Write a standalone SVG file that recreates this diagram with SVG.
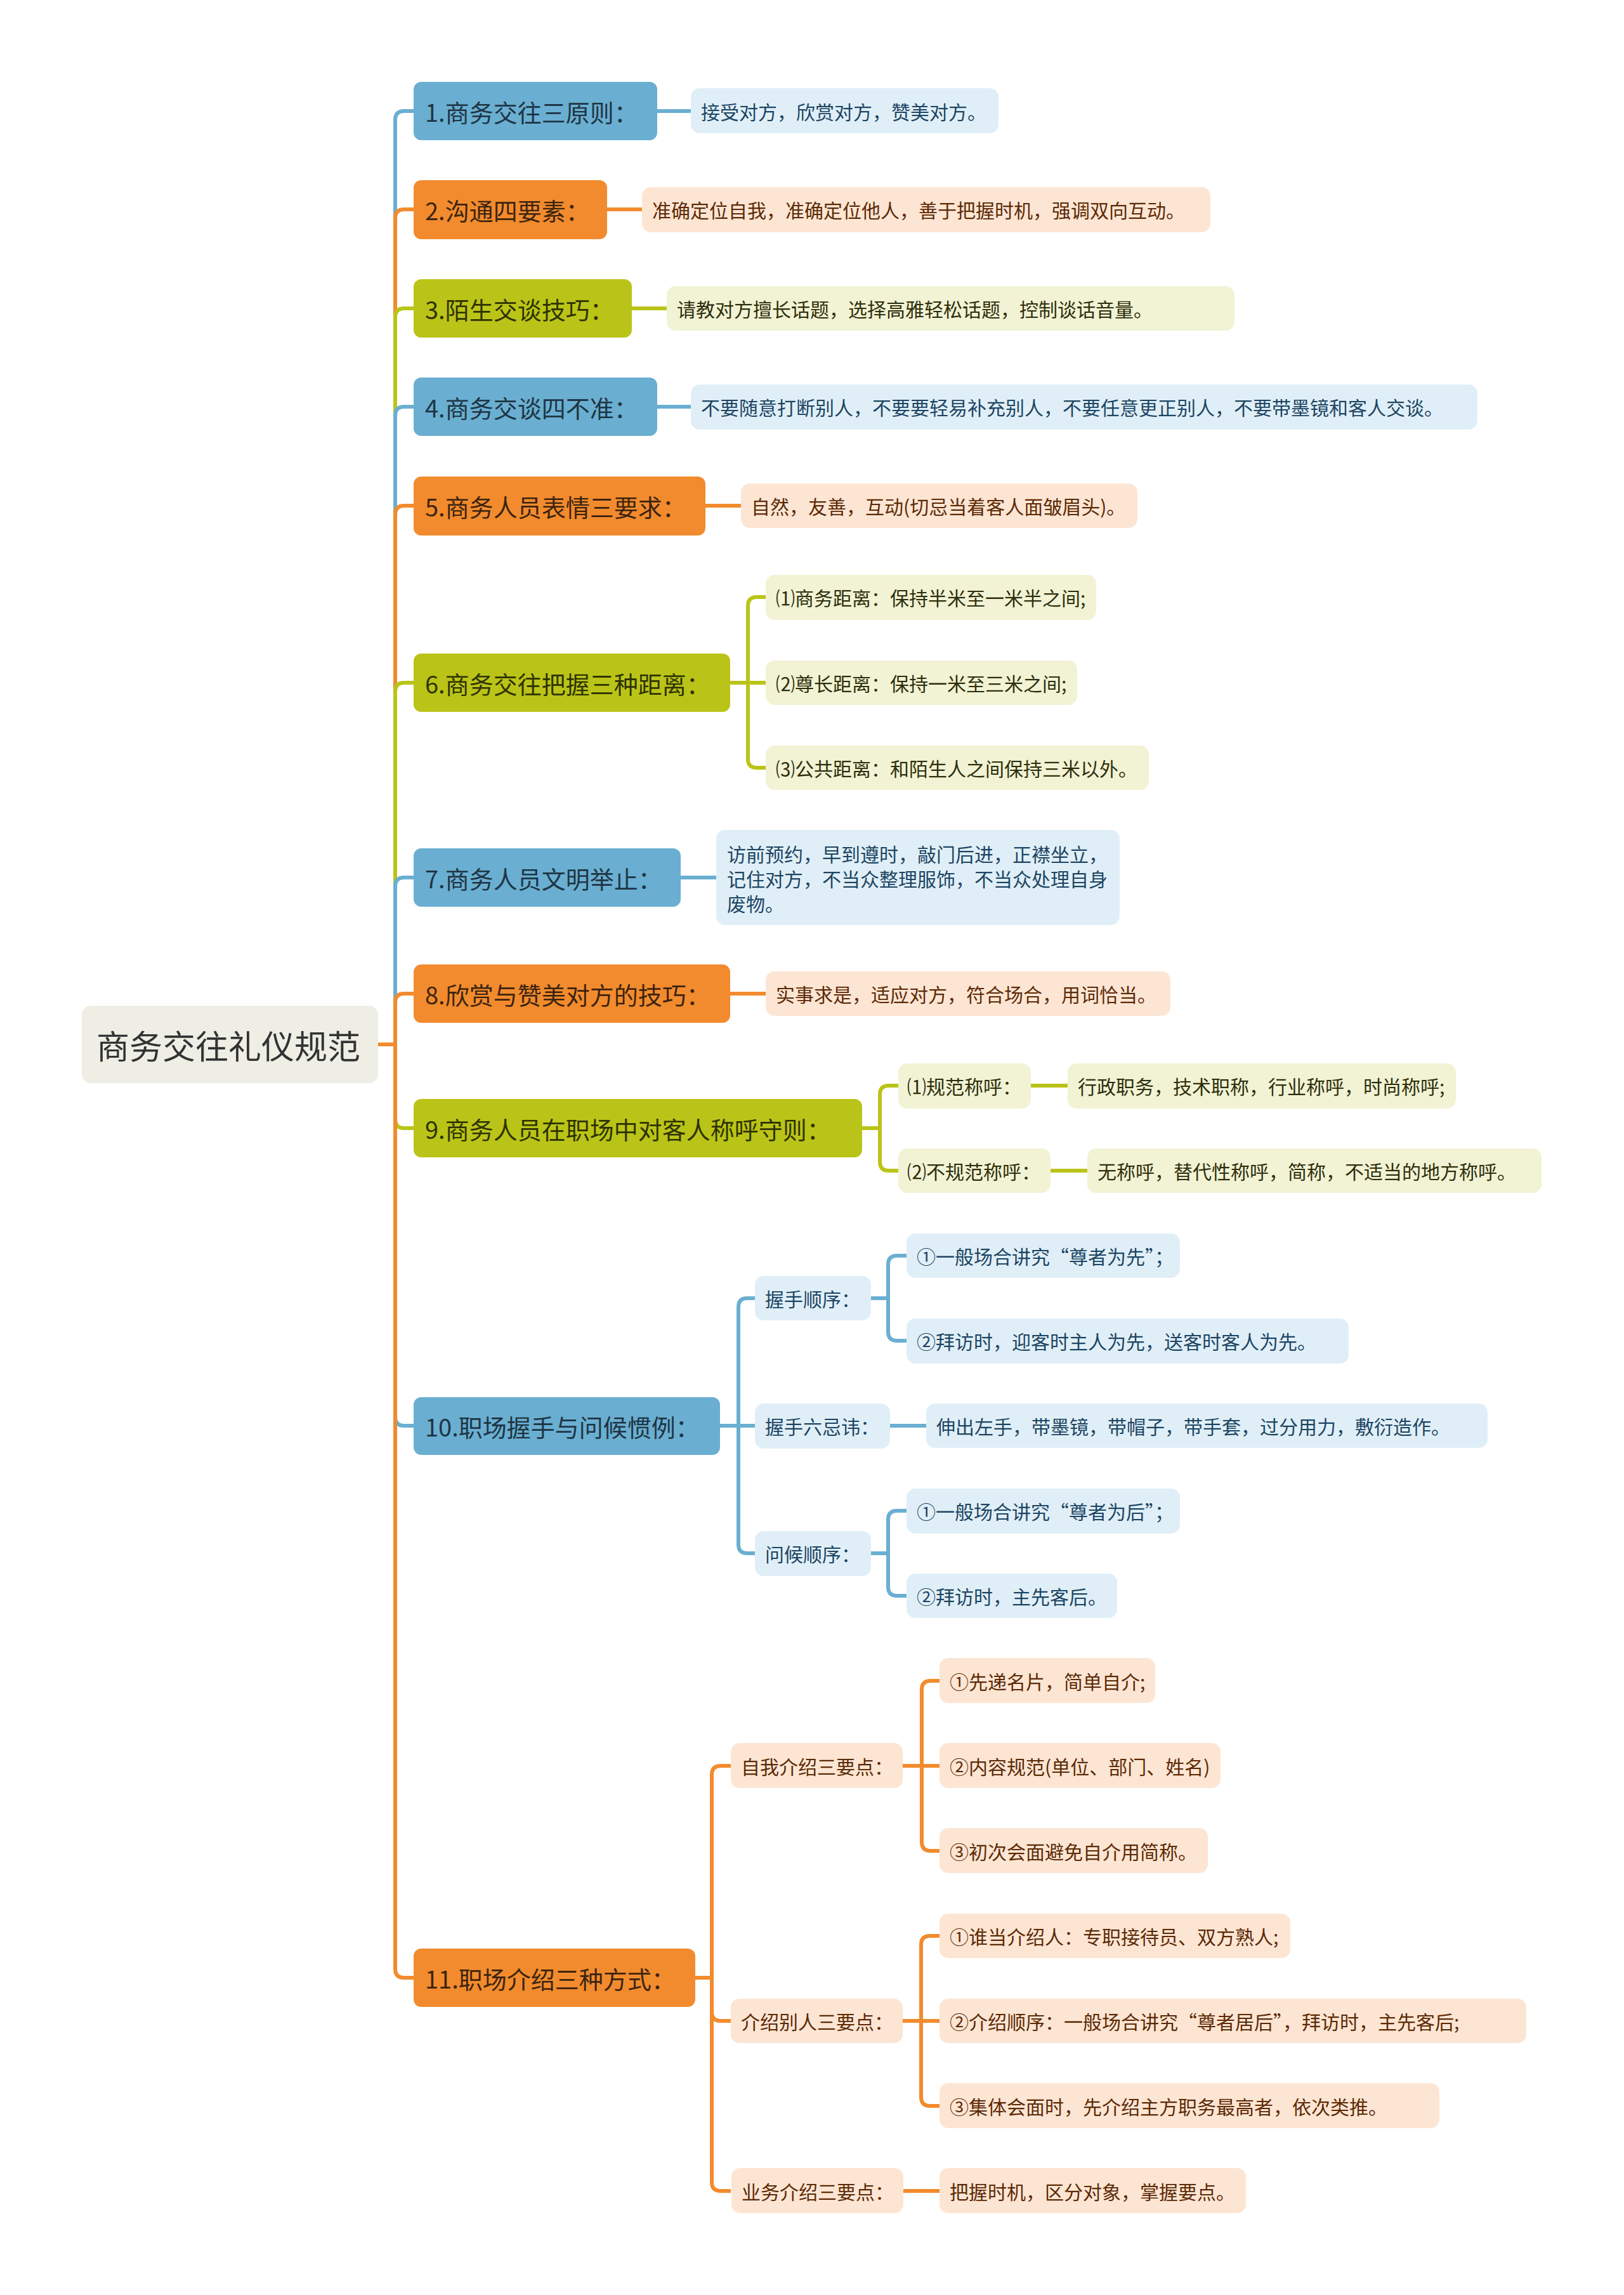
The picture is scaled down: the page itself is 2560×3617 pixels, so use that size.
<svg xmlns="http://www.w3.org/2000/svg" width="2560" height="3617" viewBox="0 0 2560 3617">
<style>
text{font-family:"Noto Sans CJK SC","Noto Sans",sans-serif;dominant-baseline:central}
.c{fill:none;stroke-width:6;stroke-linejoin:round}
.cb{stroke:#6AAFD1}.co{stroke:#F28B2D}.cg{stroke:#BAC418}
.mb{fill:#6AAFD1}.mo{fill:#F28B2D}.mg{fill:#BAC418}
.lb{fill:#E0EFF7}.lo{fill:#FDE5D3}.lg{fill:#F1F3D4}
.tm{font-size:38px}
.tmb{fill:#1E3545}.tmo{fill:#3D2410}.tmg{fill:#2F3300}
.ts{font-size:30px}
.tsb{fill:#1D4563}.tso{fill:#5C2A06}.tsg{fill:#2E2E0C}
</style>
<rect width="2560" height="3617" fill="#FFFFFF"/>
<g id="connectors">
<path class="c cb" d="M596,1646 H623 V189 Q623,175 637,175 H652"/>
<path class="c co" d="M596,1646 H623 V344 Q623,330 637,330 H652"/>
<path class="c cg" d="M596,1646 H623 V500 Q623,486 637,486 H652"/>
<path class="c cb" d="M596,1646 H623 V655 Q623,641 637,641 H652"/>
<path class="c co" d="M596,1646 H623 V811 Q623,797 637,797 H652"/>
<path class="c cg" d="M596,1646 H623 V1090 Q623,1076 637,1076 H652"/>
<path class="c cb" d="M596,1646 H623 V1397 Q623,1383 637,1383 H652"/>
<path class="c co" d="M596,1646 H623 V1580 Q623,1566 637,1566 H652"/>
<path class="c cg" d="M596,1646 H623 V1764 Q623,1778 637,1778 H652"/>
<path class="c cb" d="M596,1646 H623 V2233 Q623,2247 637,2247 H652"/>
<path class="c co" d="M596,1646 H623 V3103 Q623,3117 637,3117 H652"/>
<path class="c cb" d="M1036,175 H1089"/>
<path class="c co" d="M957,330 H1012"/>
<path class="c cg" d="M996,486 H1051"/>
<path class="c cb" d="M1036,641 H1089"/>
<path class="c co" d="M1112,797 H1168"/>
<path class="c cg" d="M1151,1076 H1179 V955 Q1179,941 1193,941 H1207"/>
<path class="c cg" d="M1151,1076 H1207"/>
<path class="c cg" d="M1151,1076 H1179 V1196 Q1179,1210 1193,1210 H1207"/>
<path class="c cb" d="M1073,1383 H1129"/>
<path class="c co" d="M1151,1566 H1207"/>
<path class="c cg" d="M1359,1778 H1387 V1725 Q1387,1711 1401,1711 H1416"/>
<path class="c cg" d="M1359,1778 H1387 V1831 Q1387,1845 1401,1845 H1416"/>
<path class="c cg" d="M1625,1711 H1683"/>
<path class="c cg" d="M1656,1845 H1714"/>
<path class="c cb" d="M1135,2247 H1164 V2060 Q1164,2046 1178,2046 H1190"/>
<path class="c cb" d="M1135,2247 H1190"/>
<path class="c cb" d="M1135,2247 H1164 V2434 Q1164,2448 1178,2448 H1190"/>
<path class="c cb" d="M1373,2046 H1400 V1993 Q1400,1979 1414,1979 H1429"/>
<path class="c cb" d="M1373,2046 H1400 V2099 Q1400,2113 1414,2113 H1429"/>
<path class="c cb" d="M1403,2247 H1460"/>
<path class="c cb" d="M1373,2448 H1400 V2395 Q1400,2381 1414,2381 H1429"/>
<path class="c cb" d="M1373,2448 H1400 V2501 Q1400,2515 1414,2515 H1429"/>
<path class="c co" d="M1096,3117 H1122 V2797 Q1122,2783 1136,2783 H1152"/>
<path class="c co" d="M1096,3117 H1122 V3171 Q1122,3185 1136,3185 H1152"/>
<path class="c co" d="M1096,3117 H1122 V3439 Q1122,3453 1136,3453 H1152"/>
<path class="c co" d="M1423,2783 H1453 V2663 Q1453,2649 1467,2649 H1481"/>
<path class="c co" d="M1423,2783 H1481"/>
<path class="c co" d="M1423,2783 H1453 V2903 Q1453,2917 1467,2917 H1481"/>
<path class="c co" d="M1423,3185 H1452 V3065 Q1452,3051 1466,3051 H1481"/>
<path class="c co" d="M1423,3185 H1481"/>
<path class="c co" d="M1423,3185 H1452 V3305 Q1452,3319 1466,3319 H1481"/>
<path class="c co" d="M1424,3453 H1481"/>
</g>
<g id="root"><rect x="129" y="1585" width="467" height="122" rx="14" fill="#EEEEE5"/><text x="152" y="1646" font-size="52" fill="#333333">商务交往礼仪规范</text></g>

<g id="n1"><rect class="mb" x="652" y="129" width="384" height="92" rx="12"/><text class="tm tmb" x="670" y="175">1.商务交往三原则：</text></g>
<g id="n1a"><rect class="lb" x="1089" y="139" width="485" height="71" rx="14"/><text class="ts tsb" x="1105" y="175">接受对方，欣赏对方，赞美对方。</text></g>

<g id="n2"><rect class="mo" x="652" y="284" width="305" height="93" rx="12"/><text class="tm tmo" x="670" y="330">2.沟通四要素：</text></g>
<g id="n2a"><rect class="lo" x="1012" y="295" width="896" height="71" rx="14"/><text class="ts tso" x="1028" y="330">准确定位自我，准确定位他人，善于把握时机，强调双向互动。</text></g>

<g id="n3"><rect class="mg" x="652" y="440" width="344" height="92" rx="12"/><text class="tm tmg" x="670" y="486">3.陌生交谈技巧：</text></g>
<g id="n3a"><rect class="lg" x="1051" y="451" width="895" height="70" rx="14"/><text class="ts tsg" x="1067" y="486">请教对方擅长话题，选择高雅轻松话题，控制谈话音量。</text></g>

<g id="n4"><rect class="mb" x="652" y="595" width="384" height="92" rx="12"/><text class="tm tmb" x="670" y="641">4.商务交谈四不准：</text></g>
<g id="n4a"><rect class="lb" x="1089" y="606" width="1240" height="71" rx="14"/><text class="ts tsb" x="1105" y="641">不要随意打断别人，不要要轻易补充别人，不要任意更正别人，不要带墨镜和客人交谈。</text></g>

<g id="n5"><rect class="mo" x="652" y="751" width="460" height="93" rx="12"/><text class="tm tmo" x="670" y="797">5.商务人员表情三要求：</text></g>
<g id="n5a"><rect class="lo" x="1168" y="762" width="625" height="70" rx="14"/><text class="ts tso" x="1184" y="797">自然，友善，互动(切忌当着客人面皱眉头)。</text></g>

<g id="n6"><rect class="mg" x="652" y="1030" width="499" height="92" rx="12"/><text class="tm tmg" x="670" y="1076">6.商务交往把握三种距离：</text></g>
<g id="n6a"><rect class="lg" x="1207" y="906" width="521" height="71" rx="14"/><text class="ts tsg" x="1223" y="941">⑴商务距离：保持半米至一米半之间;</text></g>
<g id="n6b"><rect class="lg" x="1207" y="1041" width="491" height="70" rx="14"/><text class="ts tsg" x="1223" y="1076">⑵尊长距离：保持一米至三米之间;</text></g>
<g id="n6c"><rect class="lg" x="1207" y="1175" width="604" height="70" rx="14"/><text class="ts tsg" x="1223" y="1210">⑶公共距离：和陌生人之间保持三米以外。</text></g>

<g id="n7"><rect class="mb" x="652" y="1337" width="421" height="92" rx="12"/><text class="tm tmb" x="670" y="1383">7.商务人员文明举止：</text></g>
<g id="n7a"><rect class="lb" x="1129" y="1308" width="636" height="150" rx="14"/><text class="ts tsb" x="1146" y="1345">访前预约，早到遵时，敲门后进，正襟坐立，</text><text class="ts tsb" x="1146" y="1384">记住对方，不当众整理服饰，不当众处理自身</text><text class="ts tsb" x="1146" y="1423">废物。</text></g>

<g id="n8"><rect class="mo" x="652" y="1520" width="499" height="92" rx="12"/><text class="tm tmo" x="670" y="1566">8.欣赏与赞美对方的技巧：</text></g>
<g id="n8a"><rect class="lo" x="1207" y="1531" width="638" height="70" rx="14"/><text class="ts tso" x="1223" y="1566">实事求是，适应对方，符合场合，用词恰当。</text></g>

<g id="n9"><rect class="mg" x="652" y="1732" width="707" height="92" rx="12"/><text class="tm tmg" x="670" y="1778">9.商务人员在职场中对客人称呼守则：</text></g>
<g id="n9a"><rect class="lg" x="1416" y="1676" width="209" height="71" rx="14"/><text class="ts tsg" x="1430" y="1711">⑴规范称呼：</text></g>
<g id="n9a1"><rect class="lg" x="1683" y="1676" width="612" height="71" rx="14"/><text class="ts tsg" x="1699" y="1711">行政职务，技术职称，行业称呼，时尚称呼;</text></g>
<g id="n9b"><rect class="lg" x="1416" y="1810" width="240" height="70" rx="14"/><text class="ts tsg" x="1430" y="1845">⑵不规范称呼：</text></g>
<g id="n9b1"><rect class="lg" x="1714" y="1810" width="716" height="70" rx="14"/><text class="ts tsg" x="1730" y="1845">无称呼，替代性称呼，简称，不适当的地方称呼。</text></g>

<g id="n10"><rect class="mb" x="652" y="2202" width="483" height="91" rx="12"/><text class="tm tmb" x="670" y="2247">10.职场握手与问候惯例：</text></g>
<g id="n10a"><rect class="lb" x="1190" y="2011" width="183" height="70" rx="14"/><text class="ts tsb" x="1206" y="2046">握手顺序：</text></g>
<g id="n10a1"><rect class="lb" x="1429" y="1944" width="431" height="70" rx="14"/><text class="ts tsb" x="1445" y="1979">①一般场合讲究“尊者为先”；</text></g>
<g id="n10a2"><rect class="lb" x="1429" y="2078" width="697" height="71" rx="14"/><text class="ts tsb" x="1445" y="2113">②拜访时，迎客时主人为先，送客时客人为先。</text></g>
<g id="n10b"><rect class="lb" x="1190" y="2212" width="213" height="71" rx="14"/><text class="ts tsb" x="1206" y="2247">握手六忌讳：</text></g>
<g id="n10b1"><rect class="lb" x="1460" y="2212" width="885" height="70" rx="14"/><text class="ts tsb" x="1476" y="2247">伸出左手，带墨镜，带帽子，带手套，过分用力，敷衍造作。</text></g>
<g id="n10c"><rect class="lb" x="1190" y="2413" width="183" height="71" rx="14"/><text class="ts tsb" x="1206" y="2448">问候顺序：</text></g>
<g id="n10c1"><rect class="lb" x="1429" y="2346" width="431" height="71" rx="14"/><text class="ts tsb" x="1445" y="2381">①一般场合讲究“尊者为后”；</text></g>
<g id="n10c2"><rect class="lb" x="1429" y="2480" width="332" height="70" rx="14"/><text class="ts tsb" x="1445" y="2515">②拜访时，主先客后。</text></g>

<g id="n11"><rect class="mo" x="652" y="3071" width="444" height="92" rx="12"/><text class="tm tmo" x="670" y="3117">11.职场介绍三种方式：</text></g>
<g id="n11a"><rect class="lo" x="1152" y="2747" width="271" height="71" rx="14"/><text class="ts tso" x="1168" y="2783">自我介绍三要点：</text></g>
<g id="n11a1"><rect class="lo" x="1481" y="2613" width="340" height="71" rx="14"/><text class="ts tso" x="1497" y="2649">①先递名片，简单自介;</text></g>
<g id="n11a2"><rect class="lo" x="1481" y="2747" width="443" height="71" rx="14"/><text class="ts tso" x="1497" y="2783">②内容规范(单位、部门、姓名)</text></g>
<g id="n11a3"><rect class="lo" x="1481" y="2881" width="423" height="71" rx="14"/><text class="ts tso" x="1497" y="2917">③初次会面避免自介用简称。</text></g>
<g id="n11b"><rect class="lo" x="1152" y="3150" width="271" height="70" rx="14"/><text class="ts tso" x="1168" y="3185">介绍别人三要点：</text></g>
<g id="n11b1"><rect class="lo" x="1481" y="3016" width="553" height="70" rx="14"/><text class="ts tso" x="1497" y="3051">①谁当介绍人：专职接待员、双方熟人;</text></g>
<g id="n11b2"><rect class="lo" x="1481" y="3150" width="925" height="70" rx="14"/><text class="ts tso" x="1497" y="3185">②介绍顺序：一般场合讲究“尊者居后”，拜访时，主先客后;</text></g>
<g id="n11b3"><rect class="lo" x="1481" y="3283" width="788" height="71" rx="14"/><text class="ts tso" x="1497" y="3319">③集体会面时，先介绍主方职务最高者，依次类推。</text></g>
<g id="n11c"><rect class="lo" x="1153" y="3417" width="271" height="71" rx="14"/><text class="ts tso" x="1169" y="3453">业务介绍三要点：</text></g>
<g id="n11c1"><rect class="lo" x="1481" y="3417" width="483" height="71" rx="14"/><text class="ts tso" x="1497" y="3453">把握时机，区分对象，掌握要点。</text></g>
</svg>
